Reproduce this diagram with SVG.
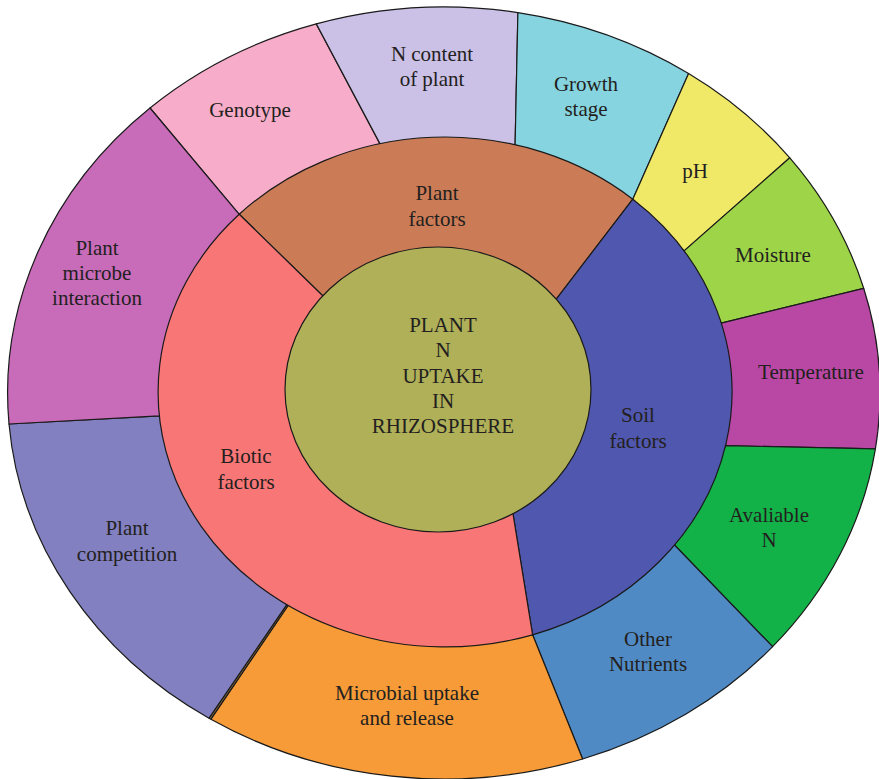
<svg xmlns="http://www.w3.org/2000/svg" width="879" height="779" viewBox="0 0 879 779">
<style>
.s{stroke:#1a1a1a;stroke-width:1.2;stroke-linejoin:round}
text{font-family:"Liberation Serif","Times New Roman",serif;font-size:21px;fill:#231f20;text-anchor:middle}
</style>
<rect width="879" height="779" fill="#ffffff"/>
<g id="outer-ring">
<g id="genotype"><path class="s" fill="#f7adc9" d="M239.2,214.3 L150,108 A436,386 0 0 1 316.3,23.9 L379.9,143.6 Z"/><text x="250" y="117">Genotype</text></g>
<g id="n-content"><path class="s" fill="#cbc0e6" d="M379.9,143.6 L316.3,23.9 A436,386 0 0 1 517.9,12.6 L515.1,144.7 Z"/><text x="432" y="61">N content</text><text x="432" y="86">of plant</text></g>
<g id="growth-stage"><path class="s" fill="#86d4e0" d="M515.1,144.7 L517.9,12.6 A436,386 0 0 1 688.6,73.5 L632.8,199.2 Z"/><text x="586" y="91">Growth</text><text x="586" y="116">stage</text></g>
<g id="ph"><path class="s" fill="#f0e967" d="M632.8,199.2 L688.6,73.5 A436,386 0 0 1 789.8,157.8 L684.1,250.9 Z"/><text x="695" y="178">pH</text></g>
<g id="moisture"><path class="s" fill="#9ed447" d="M684.1,250.9 L789.8,157.8 A436,386 0 0 1 863.7,288.3 L721.3,323.2 Z"/><text x="773" y="262">Moisture</text></g>
<g id="temperature"><path class="s" fill="#b848a4" d="M721.3,323.2 L863.7,288.3 A436,386 0 0 1 875.4,448.8 L725.6,445.7 Z"/><text x="811" y="379">Temperature</text></g>
<g id="available-n"><path class="s" fill="#12b248" d="M725.6,445.7 L875.4,448.8 A436,386 0 0 1 772.6,646.7 L674.5,545 Z"/><text x="769" y="522">Avaliable</text><text x="769" y="547">N</text></g>
<g id="other-nutrients"><path class="s" fill="#4f8ac4" d="M674.5,545 L772.6,646.7 A436,386 0 0 1 582.6,759 L532.6,634.8 Z"/><text x="648" y="646">Other</text><text x="648" y="671">Nutrients</text></g>
<g id="microbial"><path class="s" fill="#f69b37" d="M532.6,634.8 L582.6,759 A436,386 0 0 1 210.9,719.2 L288.1,605.5 Z"/><text x="407" y="700">Microbial uptake</text><text x="407" y="725">and release</text></g>
<g id="sliver"><path class="s" fill="#8a6a3a" d="M288.1,605.5 L210.9,719.2 L209,718.2 L286.6,604.8 Z"/></g>
<g id="plant-competition"><path class="s" fill="#8280c0" d="M286.6,604.8 L209,718.2 A436,386 0 0 1 9,424 L159.3,415.9 Z"/><text x="127" y="535">Plant</text><text x="127" y="561">competition</text></g>
<g id="plant-microbe"><path class="s" fill="#c86bb9" d="M159.3,415.9 L9,424 A436,386 0 0 1 150,108 L239.2,214.3 Z"/><text x="97" y="255">Plant</text><text x="97" y="280">microbe</text><text x="97" y="305">interaction</text></g>
</g>
<g id="middle-ring">
<g id="plant-factors"><path class="s" fill="#cb7c56" d="M239.2,214.3 A287,255 0 0 1 632.8,199.2 L540,320.3 L345,317.5 Z"/><text x="437" y="200">Plant</text><text x="437" y="226">factors</text></g>
<g id="soil-factors"><path class="s" fill="#5057ae" d="M632.8,199.2 A287,255 0 0 1 532.6,634.8 L509.1,489.8 L540,320.3 Z"/><text x="638" y="422">Soil</text><text x="638" y="448">factors</text></g>
<g id="biotic-factors"><path class="s" fill="#f87676" d="M532.6,634.8 A287,255 0 0 1 239.2,214.3 L345,317.5 L509.1,489.8 Z"/><text x="246" y="463">Biotic</text><text x="246" y="489">factors</text></g>
</g>
<g id="center">
<ellipse class="s" fill="#b0b058" cx="438" cy="389.5" rx="153" ry="142.5"/>
<text x="443" y="332">PLANT</text><text x="443" y="357">N</text><text x="443" y="383">UPTAKE</text><text x="443" y="408">IN</text><text x="443" y="433">RHIZOSPHERE</text>
</g>
</svg>
